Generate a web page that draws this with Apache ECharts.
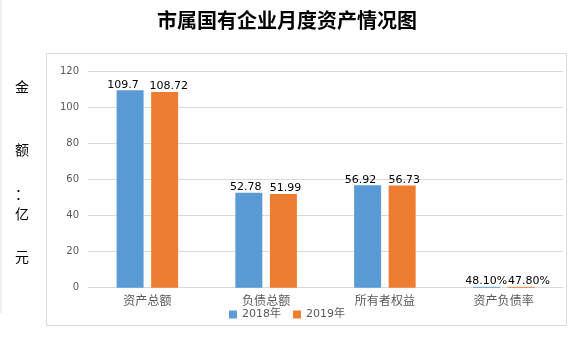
<!DOCTYPE html>
<html><head><meta charset="utf-8">
<script src="https://cdn.jsdelivr.net/npm/echarts@6/dist/echarts.min.js"></script>
<style>html,body{margin:0;padding:0;background:#fff}#c{width:574px;height:338px}</style>
</head><body><div id="c"></div>
<script>
var categories = ['资产总额', '负债总额', '所有者权益', '资产负债率'];
var seriesNames = ['2018年', '2019年'];
var values2018 = [109.7, 52.78, 56.92, 0.481];
var values2019 = [108.72, 51.99, 56.73, 0.478];
var yTicks = [0, 20, 40, 60, 80, 100, 120];
var colors = ['#5B9BD5', '#ED7D31'];

var font = '"DejaVu Sans", Verdana, "Noto Sans CJK SC", sans-serif';
function fmt(p) {
  if (p.dataIndex === 3) return (p.value * 100).toFixed(2) + '%';
  return String(p.value);
}
// label nudges (Excel shifts labels apart so they do not collide)
var shift2018 = [-7, -3, -7, 0];
var shift2019 = [4, 2, 2, 8];
function mkData(arr, shifts) {
  return arr.map(function (v, i) {
    return { value: v, label: { offset: [shifts[i], 0] } };
  });
}
var chart = echarts.init(document.getElementById('c'), null, { renderer: 'canvas' });
var yLabelChars = [['金', 87], ['额', 150], ['：', 194], ['亿', 214], ['元', 257]];
var graphics = [
  { type: 'rect', shape: { x: 46.5, y: 53.5, width: 520, height: 272 }, style: { fill: 'none', stroke: '#d9d9d9', lineWidth: 1 }, z: 0 },
  { type: 'rect', shape: { x: 0, y: 0, width: 2, height: 313 }, style: { fill: '#f0f0f0' }, z: 0 }
];
yLabelChars.forEach(function (c) {
  graphics.push({ type: 'text', x: 22, y: c[1], style: { text: c[0], font: '14px "Noto Sans CJK SC"', fill: '#000', align: 'center', verticalAlign: 'middle' } });
});
chart.setOption({
  animation: false,
  color: colors,
  title: {
    text: '市属国有企业月度资产情况图', left: 'center', top: 5,
    textStyle: { fontFamily: '"Noto Sans CJK SC"', fontWeight: 'bold', fontSize: 20, color: '#000' }
  },
  graphic: graphics,
  legend: {
    data: seriesNames, top: 309, left: 'center', padding: 0, itemWidth: 8, itemHeight: 8, itemGap: 12,
    icon: 'rect',
    textStyle: { fontFamily: font, fontSize: 11, color: '#595959' }
  },
  grid: { left: 88, right: 11, top: 71.7, bottom: 50.3, containLabel: false },
  xAxis: {
    type: 'category', data: categories,
    axisLine: { lineStyle: { color: '#d9d9d9' } },
    axisTick: { show: false },
    axisLabel: { fontFamily: '"Noto Sans CJK SC"', fontSize: 12, color: '#595959', margin: 7 }
  },
  yAxis: {
    type: 'value', min: yTicks[0], max: yTicks[yTicks.length - 1], interval: 20,
    axisLine: { show: false }, axisTick: { show: false },
    splitLine: { lineStyle: { color: '#d9d9d9' } },
    axisLabel: { fontFamily: font, fontSize: 10, color: '#595959', margin: 9 }
  },
  series: [
    { name: seriesNames[0], type: 'bar', data: mkData(values2018, shift2018), barWidth: 27, barGap: '28%',
      label: { show: true, position: 'top', distance: 0, formatter: fmt, fontFamily: font, fontSize: 11, color: '#000' } },
    { name: seriesNames[1], type: 'bar', data: mkData(values2019, shift2019), barWidth: 27,
      label: { show: true, position: 'top', distance: 0, formatter: fmt, fontFamily: font, fontSize: 11, color: '#000' } }
  ]
});
</script></body></html>
